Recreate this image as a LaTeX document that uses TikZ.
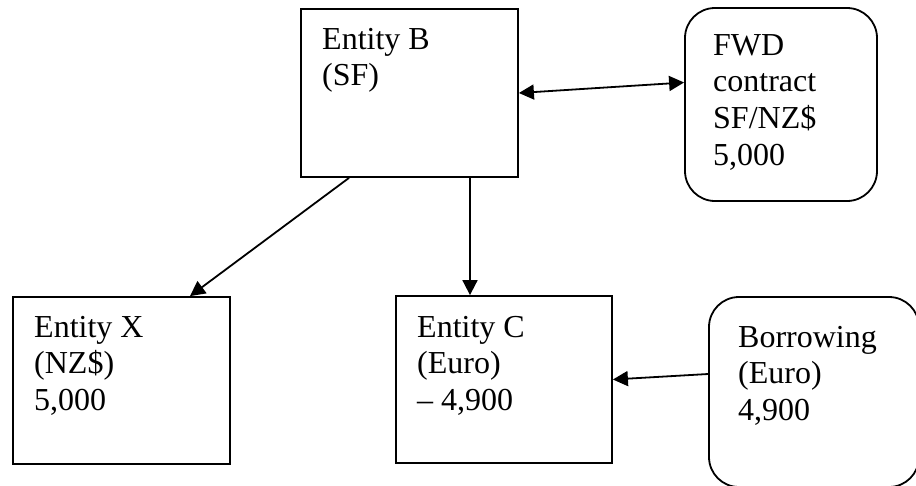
\documentclass[tikz,border=0pt]{standalone}
\usepackage{fontspec}
\setmainfont{Liberation Serif}
\usetikzlibrary{arrows.meta}

\tikzset{
  box/.style={draw, line width=1.8pt, inner sep=0pt},
  rbox/.style={box, rounded corners=30pt},
  txt/.style={anchor=base west, inner sep=0pt, font=\fontsize{32}{36.8}\selectfont},
  link/.style={line width=1.8pt, -{Triangle[length=15pt,width=15pt]}},
  twoway/.style={line width=1.8pt, {Triangle[length=15pt,width=15pt]}-{Triangle[length=15pt,width=15pt]}},
}

\begin{document}
\begin{tikzpicture}[x=1pt,y=-1pt]
\useasboundingbox (0,0) rectangle (916,485);
\clip (0,0) rectangle (916,485);
% entities and contracts
\node[box, minimum width=217pt, minimum height=168pt] (b) at (409.5,93) {};
\node[rbox, minimum width=192pt, minimum height=193pt] (fwd) at (781,104.5) {};
\node[box, minimum width=217pt, minimum height=167pt] (x) at (121.5,380.5) {};
\node[box, minimum width=216pt, minimum height=167pt] (c) at (504,379.5) {};
\node[rbox, minimum width=210pt, minimum height=190pt] (bor) at (814,392) {};
% text in the boxes
\node[txt] (tb) at (322,49) {\parbox[t]{6cm}{Entity B\\(SF)}};
\node[txt] (tfwd) at (713,55) {\parbox[t]{6cm}{FWD\\contract\\SF/NZ\$\\5,000}};
\node[txt] (tx) at (34,337) {\parbox[t]{6cm}{Entity X\\(NZ\$)\\5,000}};
\node[txt] (tc) at (417,337) {\parbox[t]{6cm}{Entity C\\(Euro)\\– 4,900}};
\node[txt] (tbor) at (738,347) {\parbox[t]{6cm}{Borrowing\\(Euro)\\4,900}};
% connectors
\draw[twoway] (b.east) -- ([yshift=22pt]fwd.west);
\draw[link] ([xshift=-60.5pt]b.south) -- ([xshift=68.5pt]x.north);
\draw[link] ([xshift=60.5pt]b.south) -- ([xshift=60.5pt]b.south |- c.north);
\draw[link] ([yshift=18pt]bor.west) -- (c.east);
\end{tikzpicture}
\end{document}
